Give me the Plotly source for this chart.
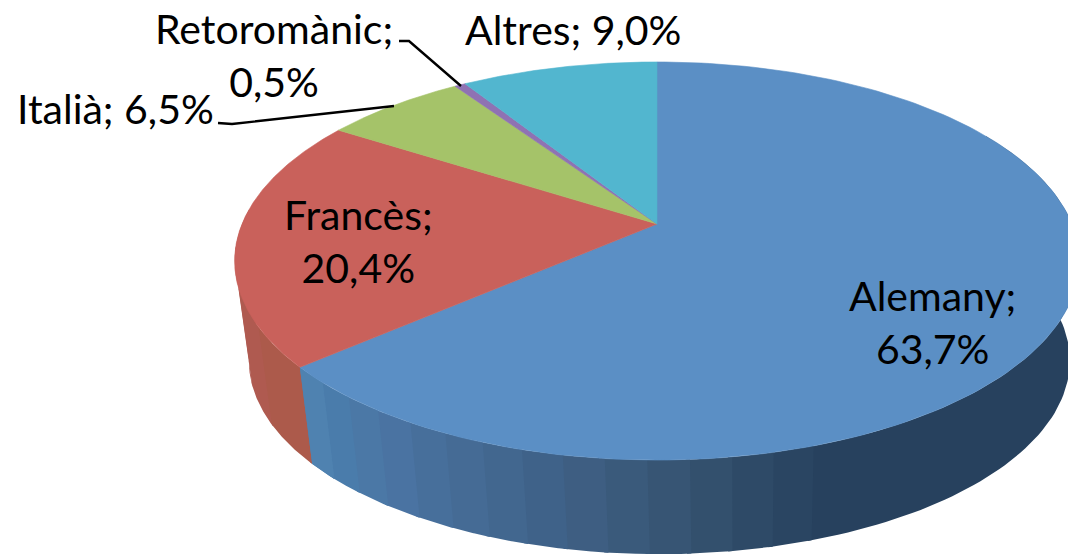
import numpy as np
import plotly.graph_objects as go

categories = ["Alemany", "Francès", "Italià", "Retoromànic", "Altres"]
values = [63.7, 20.4, 6.5, 0.5, 9.0]
top_colors = ["#5B8FC5", "#C9615B", "#A5C369", "#8F72B3", "#52B6CF"]

# tints of the visible outer wall, sampled along the rim from the slice's far edge
alemany_wall = ["#4F82B0", "#4A7CAB", "#4B78A6", "#4A73A2", "#476F9B", "#456B95", "#42678F",
                "#3F6289", "#3E5E82", "#3A5A7B", "#375574", "#33506D", "#2E4A67", "#2A4562"]
dark_wall = "#27415E"
frances_wall = ["#AC5A4B", "#AF5A50", "#B15B54", "#B35C57"]

# pie geometry in picture pixels
APEX_X, APEX_Y = 657.0, 224.0
RADIUS, PERSP_B, PERSP_C = 415.0, 150.5, -0.186
VP_X, VP_Y, DEPTH_SCALE = 740.0, 3820.0, 0.972


def rim(theta_deg, lower=False):
    t = np.radians(theta_deg)
    u, v = np.sin(t), -np.cos(t)
    d = 1 + PERSP_C * v
    x = APEX_X + RADIUS * u / d
    y = (APEX_Y + PERSP_B * v) / d
    if lower:
        x = VP_X + (x - VP_X) * DEPTH_SCALE
        y = VP_Y - (VP_Y - y) * DEPTH_SCALE
    return x, y


def poly(xs, ys, color, lw=0.6):
    return go.Scatter(x=xs, y=ys, mode="lines", fill="toself", fillcolor=color,
                      line=dict(color=color, width=lw), hoverinfo="skip", showlegend=False)


def wall(t0, t1, color):
    th = np.linspace(t0, t1, 80)
    xa, ya = rim(th)
    xb, yb = rim(th[::-1], lower=True)
    return poly(np.r_[xa, xb, xa[0]], np.r_[ya, yb, ya[0]], color, lw=0)


fig = go.Figure()
edges = np.cumsum([0] + values) / sum(values) * 360.0

# walls: each band runs a little under the one drawn after it, so no seam shows
a_end = edges[1]
band = 4.8
n = len(alemany_wall)
fig.add_trace(wall(60, a_end - n * band + 0.5, dark_wall))
for i in range(n - 1, -1, -1):
    fig.add_trace(wall(a_end - (i + 1) * band, a_end - i * band + 0.5, alemany_wall[i]))
f_span = 45.0
m = len(frances_wall)
for i in range(m - 1, -1, -1):
    fig.add_trace(wall(a_end + i * f_span / m, a_end + (i + 1) * f_span / m + 0.5, frances_wall[i]))
fig.add_trace(wall(a_end - band, a_end, alemany_wall[0]))

# top faces
for i in range(len(values)):
    th = np.linspace(edges[i], edges[i + 1], 160)
    x, y = rim(th)
    fig.add_trace(poly(np.r_[APEX_X, x, APEX_X], np.r_[APEX_Y, y, APEX_Y], top_colors[i]))

# leader lines
leaders = [([218, 232, 394], [123, 124, 106]), ([399, 409, 461], [41, 41, 86])]
for lx, ly in leaders:
    fig.add_trace(go.Scatter(x=lx, y=ly, mode="lines", line=dict(color="black", width=2.4),
                             hoverinfo="skip", showlegend=False))


def fmt(v):
    return f"{v:.1f}%".replace(".", ",")


labels = [
    (932, 322, f"{categories[0]};<br>{fmt(values[0])}"),
    (358, 241, f"{categories[1]};<br>{fmt(values[1])}"),
    (115, 108, f"{categories[2]}; {fmt(values[2])}"),
    (274, 55, f"{categories[3]};<br>{fmt(values[3])}"),
    (573, 29, f"{categories[4]}; {fmt(values[4])}"),
]
for lx, ly, txt in labels:
    fig.add_annotation(x=lx, y=ly, text=txt, showarrow=False, align="center",
                       xanchor="center", yanchor="middle",
                       font=dict(family="Lato", size=41, color="black"))

fig.update_layout(
    width=1068, height=556, margin=dict(l=0, r=0, t=0, b=0),
    paper_bgcolor="white", plot_bgcolor="white", showlegend=False,
    xaxis=dict(range=[0, 1068], visible=False, fixedrange=True),
    yaxis=dict(range=[556, 0], visible=False, fixedrange=True),
)
fig.write_html("out.html", config=dict(displayModeBar=False, responsive=False),
               post_script="document.body.style.margin='0';document.body.style.overflow='hidden';")
